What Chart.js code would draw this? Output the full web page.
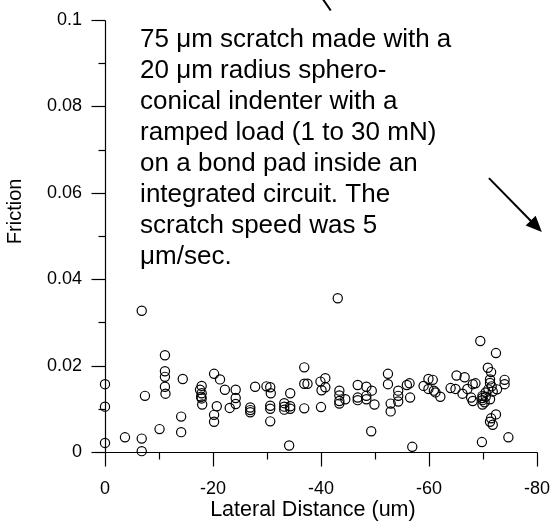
<!DOCTYPE html>
<html>
<head>
<meta charset="utf-8">
<script src="https://cdn.jsdelivr.net/npm/chart.js@4"></script>
<style>
  html, body { margin: 0; padding: 0; background: #fff; }
  #wrap { width: 551px; height: 527px; position: relative; }
</style>
</head>
<body>
<div id="wrap"><canvas id="c" width="551" height="527"></canvas></div>
<script>
// Lateral distance (um) of each friction reading
const lateralDistance = [
  0, 0, 0, -3.7, -6.8, -6.8, -6.8, -7.4, -10.1,
  -11.1, -11.1, -11.1, -11.1, -11.2, -14.4, -14.1, -14.1,
  -17.6, -17.9, -17.8, -18.0, -17.9, -17.9,
  -20.2, -21.3, -22.2, -20.7, -20.2, -20.2,
  -24.2, -24.2, -24.2, -23.1, -26.9, -26.9, -26.9, -27.8,
  -29.9, -30.6, -30.7, -30.6, -30.6, -30.6,
  -33.2, -33.2, -33.2, -34.3, -34.3, -34.3, -34.1,
  -36.9, -36.9, -37.5, -36.9,
  -39.9, -40.8, -40.1, -40.8, -40.0,
  -43.1, -43.4, -43.4, -43.4, -43.4, -44.5,
  -46.8, -46.8, -46.8, -48.4, -48.4, -48.4,
  -49.4, -49.9, -49.3,
  -52.4, -52.4, -52.9, -52.9,
  -54.3, -54.3, -54.3, -55.9, -56.4, -56.5, -56.9,
  -59.0, -59.9, -60.7, -59.9, -60.9, -61.2, -62.1,
  -64.0, -65.1, -66.6, -64.9, -66.2, -67.1, -68.1, -68.6, -67.8, -68.1,
  -69.5, -72.4, -70.9, -71.5,
  -71.3, -71.3, -71.6, -71.0, -70.5, -71.8, -72.6,
  -69.9, -69.9, -69.9, -70.3, -69.9, -70.5, -71.3,
  -74.0, -74.0,
  -72.4, -71.5, -71.8, -71.3,
  -69.8, -74.7
];
// Friction value of each reading
const friction = [
  0.0157, 0.0105, 0.0021, 0.0034, 0.0327, 0.0031, 0.0002, 0.0130, 0.0053,
  0.0224, 0.0187, 0.0174, 0.0151, 0.0135, 0.0169, 0.0082, 0.0046,
  0.0144, 0.0153, 0.0128, 0.0110, 0.0136, 0.0124,
  0.0181, 0.0168, 0.0144, 0.0106, 0.0086, 0.0070,
  0.0144, 0.0125, 0.0111, 0.0102, 0.0103, 0.0097, 0.0092, 0.0151,
  0.0152, 0.0150, 0.0136, 0.0107, 0.0100, 0.0071,
  0.0113, 0.0105, 0.0098, 0.0136, 0.0106, 0.0100, 0.0015,
  0.0196, 0.0158, 0.0158, 0.0101,
  0.0163, 0.0171, 0.0143, 0.0150, 0.0104,
  0.0356, 0.0142, 0.0131, 0.0118, 0.0112, 0.0122,
  0.0155, 0.0126, 0.0120, 0.0151, 0.0130, 0.0122,
  0.0142, 0.0110, 0.0048,
  0.0181, 0.0157, 0.0112, 0.0094,
  0.0142, 0.0130, 0.0117, 0.0155, 0.0159, 0.0126, 0.0012,
  0.0153, 0.0169, 0.0167, 0.0146, 0.0142, 0.0138, 0.0128,
  0.0148, 0.0177, 0.0173, 0.0146, 0.0135, 0.0146, 0.0157, 0.0159, 0.0126, 0.0118,
  0.0257, 0.0229, 0.0195, 0.0185,
  0.0168, 0.0160, 0.0152, 0.0145, 0.0138, 0.0140, 0.0145,
  0.0130, 0.0125, 0.0120, 0.0115, 0.0110, 0.0128, 0.0122,
  0.0167, 0.0157,
  0.0087, 0.0078, 0.0063, 0.0070,
  0.0023, 0.0034
];
const xMajorTicks = [0, -20, -40, -60, -80];
const xMinorTicks = [-10, -30, -50, -70];
const yMajorTicks = [0, 0.02, 0.04, 0.06, 0.08, 0.1];
const yMinorTicks = [0.01, 0.03, 0.05, 0.07, 0.09];
const xTitle = 'Lateral Distance (um)';
const yTitle = 'Friction';
const annotationLines = [
  "75 \u03bcm scratch made with a",
  "20 \u03bcm radius sphero-",
  "conical indenter with a",
  "ramped load (1 to 30 mN)",
  "on a bond pad inside an",
  "integrated circuit. The",
  "scratch speed was 5",
  "\u03bcm/sec."
];
// annotation anchor (data units) and arrows (data units: [fromX, fromY, toX, toY])
const annotationAnchor = { x: -6.5, y: 0.0954 };
const yTitleCenter = 0.0557;
const xTitleCenter = -38.5;
const arrows = [
  { from: [-38.6, 0.1080], to: [-41.8, 0.1022], head: false },
  { from: [-71.1, 0.0634], to: [-80.9, 0.0509], head: true }
];

const FONT = "'Liberation Sans', Arial, Helvetica, sans-serif";
const points = lateralDistance.map((x, i) => ({ x: x, y: friction[i] }));

const axesPlugin = {
  id: 'axesPlugin',
  afterDraw(chart) {
    const { ctx, scales: { x, y } } = chart;
    ctx.save();
    ctx.strokeStyle = '#000';
    ctx.lineWidth = 1.2;
    ctx.lineCap = 'butt';
    const x0 = Math.round(x.getPixelForValue(0)) + 0.5;
    const xEnd = Math.round(x.getPixelForValue(-80)) + 0.5;
    const y0 = Math.round(y.getPixelForValue(0)) + 0.5;
    const yTop = Math.round(y.getPixelForValue(0.1)) + 0.5;
    const line = (a, b, c, d) => { ctx.beginPath(); ctx.moveTo(a, b); ctx.lineTo(c, d); ctx.stroke(); };
    line(x0, yTop, x0, y0);
    line(x0, y0, xEnd, y0);
    xMajorTicks.forEach(v => { const p = Math.round(x.getPixelForValue(v)) + 0.5; line(p, y0, p, y0 + 14); });
    xMinorTicks.forEach(v => { const p = Math.round(x.getPixelForValue(v)) + 0.5; line(p, y0, p, y0 + 7); });
    yMajorTicks.forEach(v => { const p = Math.round(y.getPixelForValue(v)) + 0.5; line(x0 - 14, p, x0, p); });
    yMinorTicks.forEach(v => { const p = Math.round(y.getPixelForValue(v)) + 0.5; line(x0 - 7, p, x0, p); });

    ctx.fillStyle = '#000';
    // y axis title
    ctx.save();
    ctx.font = '20px ' + FONT;
    ctx.textAlign = 'center';
    ctx.textBaseline = 'middle';
    ctx.translate(15, y.getPixelForValue(yTitleCenter));
    ctx.rotate(-Math.PI / 2);
    ctx.fillText(yTitle, 0, 0);
    ctx.restore();

    // x axis title
    ctx.font = '21.5px ' + FONT;
    ctx.textAlign = 'center';
    ctx.textBaseline = 'middle';
    ctx.fillText(xTitle, x.getPixelForValue(xTitleCenter), 510);

    // annotation text
    ctx.font = '26px ' + FONT;
    ctx.textAlign = 'left';
    ctx.textBaseline = 'middle';
    const tx = x.getPixelForValue(annotationAnchor.x);
    const ty = y.getPixelForValue(annotationAnchor.y);
    annotationLines.forEach((t, i) => ctx.fillText(t, tx, ty + i * 31));

    // arrows
    ctx.lineWidth = 2;
    arrows.forEach(a => {
      const fx = x.getPixelForValue(a.from[0]), fy = y.getPixelForValue(a.from[1]);
      const txp = x.getPixelForValue(a.to[0]), typ = y.getPixelForValue(a.to[1]);
      const ang = Math.atan2(typ - fy, txp - fx);
      const hl = a.head ? 16 : 0;
      line(fx, fy, txp - hl * Math.cos(ang) * 0.8, typ - hl * Math.sin(ang) * 0.8);
      if (a.head) {
        ctx.beginPath();
        ctx.moveTo(txp, typ);
        ctx.lineTo(txp - hl * Math.cos(ang) + 7 * Math.sin(ang), typ - hl * Math.sin(ang) - 7 * Math.cos(ang));
        ctx.lineTo(txp - hl * Math.cos(ang) - 7 * Math.sin(ang), typ - hl * Math.sin(ang) + 7 * Math.cos(ang));
        ctx.closePath();
        ctx.fill();
      }
    });
    ctx.restore();
  }
};

new Chart(document.getElementById('c'), {
  type: 'scatter',
  data: {
    datasets: [{
      data: points,
      showLine: false,
      pointStyle: 'circle',
      pointRadius: 4.6,
      pointBorderWidth: 1.2,
      pointBackgroundColor: 'rgba(0,0,0,0)',
      pointBorderColor: '#000',
      clip: false
    }]
  },
  options: {
    responsive: false,
    animation: false,
    events: [],
    layout: { padding: { top: 20, right: 14, left: 0, bottom: 0 } },
    plugins: { legend: { display: false }, tooltip: { enabled: false } },
    scales: {
      x: {
        type: 'linear',
        min: -80, max: 0, reverse: true,
        grid: { display: false, drawTicks: false },
        border: { display: false },
        ticks: {
          stepSize: 20, padding: 26, color: '#000', maxRotation: 0,
          font: { family: FONT, size: 18 },
          callback: v => String(v)
        },
        afterFit: s => { s.height = 75; s.paddingLeft = 0; s.paddingRight = 0; }
      },
      y: {
        type: 'linear',
        min: 0, max: 0.1,
        grid: { display: false, drawTicks: false },
        border: { display: false },
        ticks: {
          stepSize: 0.02, padding: 23, color: '#000',
          font: { family: FONT, size: 18 },
          callback: v => (v === 0 ? '0' : String(parseFloat(v.toFixed(2))))
        },
        afterFit: s => { s.width = 105; s.paddingTop = 0; s.paddingBottom = 0; }
      }
    }
  },
  plugins: [axesPlugin]
});
</script>
</body>
</html>
